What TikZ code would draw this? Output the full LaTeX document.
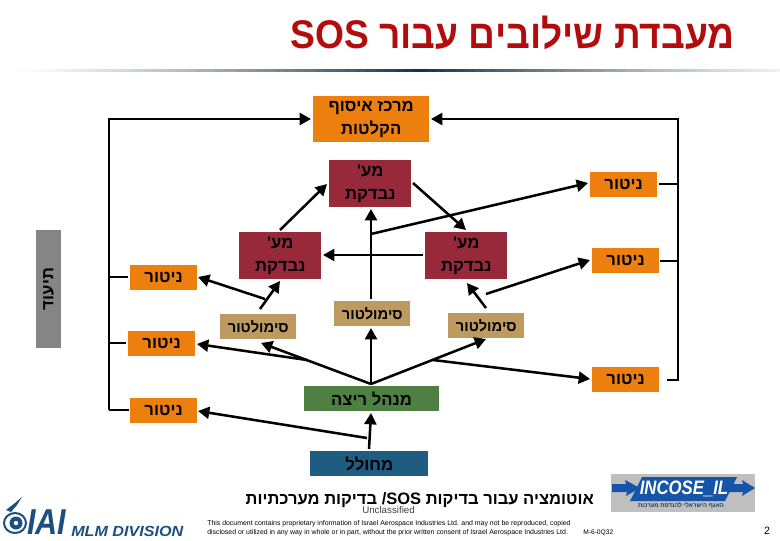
\documentclass[tikz,border=0pt]{standalone}
\usepackage{fontspec}
\setmainfont{Liberation Sans}
\newfontfamily\heb[Script=Hebrew]{Liberation Sans}
\TeXXeTstate=1
\usetikzlibrary{arrows.meta,positioning}
\definecolor{orangebox}{HTML}{EC7F0E}
\definecolor{redbox}{HTML}{97293B}
\definecolor{tanbox}{HTML}{BD9A5F}
\definecolor{greenbox}{HTML}{4F8043}
\definecolor{bluebox}{HTML}{1F5C82}
\definecolor{greybox}{HTML}{858585}
\definecolor{titlered}{HTML}{B30C0C}
\definecolor{iaiblue}{HTML}{1B4F80}
\definecolor{incblue}{HTML}{1654A8}
\definecolor{ruledark}{HTML}{12324A}
\tikzset{
  x=0.75pt,y=-0.75pt,
  flow/.style={line width=1.9pt,-{Triangle[length=8.5pt,width=9pt]}},
  plain/.style={line width=1.9pt},
  box/.style={inner sep=0pt,anchor=north west,font=\heb\bfseries\fontsize{12.5}{17.5}\selectfont,align=center},
  mon/.style={box,fill=orangebox,minimum width=50pt,minimum height=18.75pt},
  sut/.style={box,fill=redbox,minimum width=61.5pt,minimum height=35.25pt},
  simb/.style={box,fill=tanbox,minimum width=57pt,minimum height=18.75pt,font=\heb\bfseries\fontsize{11}{13}\selectfont},
}
\newcommand{\rl}[1]{\beginR #1\endR}
\begin{document}
\begin{tikzpicture}
\useasboundingbox (0,0) rectangle (780,540);
% title
\node[anchor=east,text=titlered,inner sep=0pt,xscale=.93,font=\heb\bfseries\fontsize{30}{34}\selectfont] (title) at (735,33) {\rl{מעבדת שילובים עבור \beginL SOS\endL}};
% gradient rule
\foreach \i in {0,...,77}{
  \pgfmathsetmacro{\fade}{100*(1-abs(\i-41)/41)^1.3}
  \fill[ruledark!\fade!white] (5+10*\i,68.5) rectangle (15.5+10*\i,72);
}
% boxes
\node[box,fill=orangebox,minimum width=87pt,minimum height=34.5pt] (center) at (313,96) {\rl{מרכז איסוף}\\\rl{הקלטות}};
\node[sut] (sutT) at (329,160) {\rl{מע'}\\\rl{נבדקת}};
\node[sut] (sutL) at (239,232) {\rl{מע'}\\\rl{נבדקת}};
\node[sut] (sutR) at (425,232) {\rl{מע'}\\\rl{נבדקת}};
\node[mon] (mR1) at (590,172) {\rl{ניטור}};
\node[mon] (mR2) at (592,248) {\rl{ניטור}};
\node[mon] (mR3) at (592,367) {\rl{ניטור}};
\node[mon] (mL1) at (130,265) {\rl{ניטור}};
\node[mon] (mL2) at (128,331) {\rl{ניטור}};
\node[mon] (mL3) at (130,398) {\rl{ניטור}};
\node[simb] (sL) at (220,314) {\rl{סימולטור}};
\node[simb] (sM) at (334,301) {\rl{סימולטור}};
\node[simb] (sR) at (448,313) {\rl{סימולטור}};
\node[box,fill=greenbox,minimum width=101pt,minimum height=18.75pt] (mgr) at (304,386) {\rl{מנהל ריצה}};
\node[box,fill=bluebox,minimum width=88.5pt,minimum height=18.75pt] (gen) at (310,451) {\rl{מחולל}};
\node[fill=greybox,inner sep=0pt,minimum width=88.5pt,minimum height=18.75pt,rotate=90,font=\heb\bfseries\fontsize{12.5}{15}\selectfont] (tiud) at (48.5,289) {\rl{תיעוד}};
% named connector ends
\coordinate (busLtop) at (109,119);
\coordinate (busLbot) at (109,410);
\coordinate (busRtop) at (678,119);
\coordinate (busRbot) at (678,380);
\coordinate (busL1) at (109,277);
\coordinate (busL2) at (109,343);
\coordinate (busR1) at (678,184);
\coordinate (busR2) at (678,261);
\coordinate (centerL) at (311,119);
\coordinate (centerR) at (431,119);
\coordinate (mL1a) at (128,277);
\coordinate (mL2a) at (126,343);
\coordinate (mL3a) at (129,410);
\coordinate (mR1a) at (659,184);
\coordinate (mR2a) at (660,261);
\coordinate (mR3a) at (667,380);
\coordinate (sLm) at (265,299);
\coordinate (sLu) at (260,309);
\coordinate (mL1i) at (198,277);
\coordinate (sutLi) at (280,281);
\coordinate (sutLo) at (280,230);
\coordinate (sutTi) at (327,184);
\coordinate (sMu) at (371,299);
\coordinate (sutTb) at (371,209);
\coordinate (sutRl) at (423,255);
\coordinate (sutLr) at (323,255);
\coordinate (tap) at (371,234);
\coordinate (mR1i) at (588,183);
\coordinate (sutTo) at (413,183);
\coordinate (sutRi) at (466,230);
\coordinate (sRu) at (486,308);
\coordinate (sutRb) at (467,283);
\coordinate (sRm) at (486,294);
\coordinate (mR2i) at (590,260);
\coordinate (hub) at (371,384);
\coordinate (sMb) at (371,328);
\coordinate (sLb) at (261,343);
\coordinate (tapL) at (307,360);
\coordinate (mL2i) at (197,344);
\coordinate (sRb) at (486,339);
\coordinate (tapR) at (433,360);
\coordinate (mR3i) at (590,379);
\coordinate (genU) at (369,449);
\coordinate (mgrB) at (371,413);
\coordinate (genL) at (367,438);
\coordinate (mL3i) at (198,411);
% buses
\draw[flow] (busLbot) -- (busLtop) -- (centerL);
\draw[flow] (mR3a) -- (busRbot) -- (busRtop) -- (centerR);
\draw[plain] (busL1) -- (mL1a);
\draw[plain] (busL2) -- (mL2a);
\draw[plain] (busLbot) -- (mL3a);
\draw[plain] (busR1) -- (mR1a);
\draw[plain] (busR2) -- (mR2a);
% arrows
\draw[flow] (sLm) -- (mL1i);
\draw[flow] (sLu) -- (sutLi);
\draw[flow] (sutLo) -- (sutTi);
\draw[flow] (sMu) -- (sutTb);
\draw[flow] (sutRl) -- (sutLr);
\draw[flow] (tap) -- (mR1i);
\draw[flow] (sutTo) -- (sutRi);
\draw[flow] (sRu) -- (sutRb);
\draw[flow] (sRm) -- (mR2i);
\draw[flow] (hub) -- (sMb);
\draw[flow] (hub) -- (sLb);
\draw[flow] (tapL) -- (mL2i);
\draw[flow] (hub) -- (sRb);
\draw[flow] (tapR) -- (mR3i);
\draw[flow] (genU) -- (mgrB);
\draw[flow] (genL) -- (mL3i);
% bottom text
\node[anchor=east,inner sep=0pt,font=\heb\bfseries\fontsize{12.4}{15}\selectfont] (sub) at (594,500) {\rl{אוטומציה עבור בדיקות \beginL SOS\endL/ בדיקות מערכתיות}};
\node[anchor=west,inner sep=0pt,font=\fontsize{7.3}{9}\selectfont,text=black!75] (uncl) at (362,510) {Unclassified};
\node[anchor=north west,inner sep=0pt,align=left,font=\fontsize{5.2}{6.75}\selectfont] (legal) at (207,520) {This document contains proprietary information of Israel Aerospace Industries Ltd. and may not be reproduced, copied\\disclosed or utilized in any way in whole or in part, without the prior written consent of Israel Aerospace Industries Ltd.};
\node[anchor=west,inner sep=0pt,font=\fontsize{5}{6}\selectfont] (code) at (583,533) {M-6-0Q32};
\node[anchor=center,inner sep=0pt,font=\fontsize{8}{10}\selectfont] (page) at (767,531) {2};
% INCOSE logo
\fill[black!25] (611,474) rectangle (755,512);
\fill[incblue] (612,484) -- (626,484) -- (625,480) -- (640,488) -- (626,496) -- (627,492) -- (612,492) -- cycle;
\fill[incblue] (726,484) -- (743,484) -- (742,480) -- (755,488) -- (742,496) -- (743,492) -- (726,492) -- cycle;
\fill[incblue] (642,477) -- (737,477) -- (725,501) -- (630,501) -- cycle;
\node[anchor=center,inner sep=0pt,text=white,xscale=.86,font=\bfseries\itshape\fontsize{14.6}{18}\selectfont] (inc) at (684,489) {INCOSE\_IL};
\node[anchor=center,inner sep=0pt,text=iaiblue!80!black,font=\heb\bfseries\fontsize{4.5}{6}\selectfont] (incs) at (681,506) {\rl{האגף הישראלי להנדסת מערכות}};
% IAI logo
\draw[iaiblue,line width=1.5pt] (15,523) ellipse (11 and 10);
\fill[iaiblue] (16,523) circle (6.5);
\fill[white] (16,523) circle (2.2);
\fill[iaiblue] (6,510) -- (15,503) -- (22,497) -- (17,505) -- (11,512) -- cycle;
\node[anchor=west,inner sep=0pt,text=iaiblue,xscale=.85,font=\bfseries\itshape\fontsize{27}{30}\selectfont] (iai) at (27,522) {IAI};
\node[anchor=west,inner sep=0pt,text=iaiblue,xscale=1.1,font=\bfseries\itshape\fontsize{11}{12}\selectfont] (mlm) at (71,531) {MLM DIVISION};
\end{tikzpicture}
\end{document}
